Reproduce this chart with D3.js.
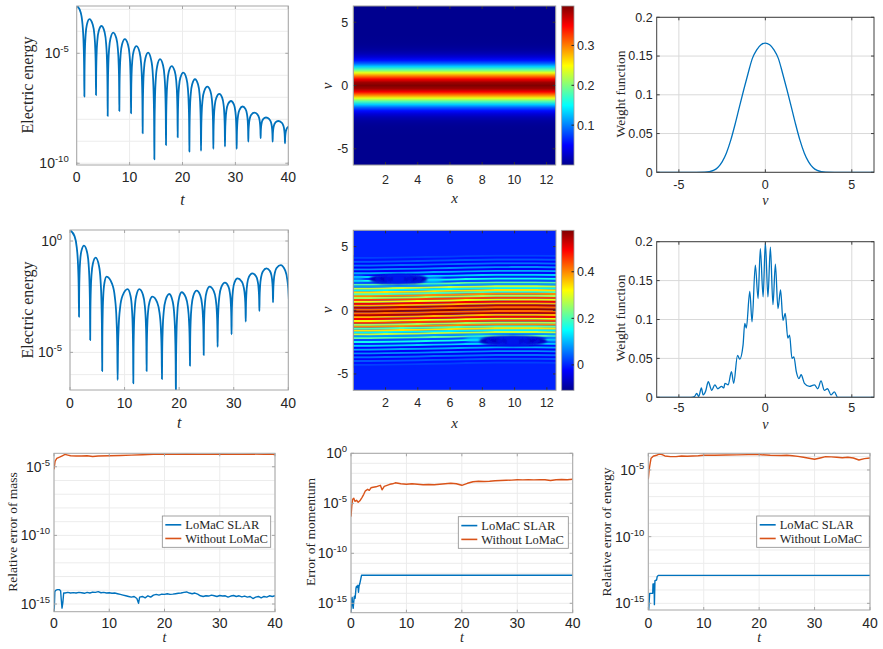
<!DOCTYPE html>
<html>
<head>
<meta charset="utf-8">
<script src="https://cdn.jsdelivr.net/npm/d3@7"></script>
<style>
body { margin: 0; background: #fff; overflow: hidden; }
svg { display: block; font-family: "Liberation Sans", Arial, sans-serif; }
.serif { font-family: "Liberation Serif", "Times New Roman", serif; }
</style>
</head>
<body>
<svg id="fig" width="883" height="649"></svg>
<script>
// ---------------- data ----------------
// electric energy, log10 values of the local maxima / minima
const e1Peaks = [[0,-2.83],[2.4,-3.45],[4.7,-3.76],[6.9,-4.06],[9.1,-4.36],[11.3,-4.67],[13.5,-4.97],[15.75,-5.27],[17.95,-5.58],[20.16,-5.88],[22.36,-6.18],[24.7,-6.52],[26.96,-6.85],[29.17,-7.17],[31.37,-7.42],[33.57,-7.7],[35.78,-7.92],[38.1,-8.08],[40.5,-8.3]];
const e1Dips = [[1.45,-6.97],[3.65,-6.9],[5.86,-7.85],[8.06,-7.62],[10.27,-7.73],[12.47,-8.64],[14.68,-9.82],[16.88,-9.17],[19.09,-8.82],[21.3,-9.47],[23.5,-9.44],[25.83,-9.35],[28.03,-9.24],[30.24,-9.35],[32.44,-9.02],[34.77,-8.86],[37.04,-9.02],[39.37,-9.09]];
const e2Peaks = [[0,0.49],[2.56,-0.21],[4.7,-0.75],[6.7,-1.6],[10.56,-2.16],[12.7,-2.16],[15.1,-2.5],[18.2,-2.38],[20.45,-2.3],[23.2,-2.23],[25.6,-2.05],[28.4,-1.87],[30.7,-1.68],[33.4,-1.45],[36.0,-1.23],[38.6,-1.08]];
const e2Dips = [[1.65,-3.4],[3.7,-4.45],[5.9,-5.84],[8.73,-6.24],[11.6,-6.39],[14.04,-5.84],[16.85,-6.2],[19.4,-7.0],[21.98,-5.6],[24.5,-5.12],[27.05,-4.75],[29.6,-4.19],[32.2,-3.62],[34.7,-3.14],[37.2,-2.75],[40.25,-4.5]];
// shape of an arch: [share of the way from peak to dip, share of the depth lost]
const archShape = [[0.5,0.07],[0.75,0.2],[0.9,0.42],[0.97,0.7]];

// f(x,v) at t = 0 (same for every x), [v, f] for v >= 0
const h1Profile = [[0,0.399],[0.25,0.387],[0.5,0.352],[0.75,0.301],[1,0.242],[1.25,0.183],[1.5,0.130],[1.75,0.086],[2,0.054],[2.25,0.032],[2.5,0.0175],[2.75,0.009],[3,0.0044],[3.25,0.002],[3.5,0.0009],[3.75,0.0004],[4,0.0001],[4.5,0],[6.3,0]];

// f(x,v) at t = 40: filament values, crest / gap for |k| = 0..14 (spacing 0.3 in v)
const h2Crest = [0.57,0.54,0.5,0.45,0.4,0.34,0.28,0.21,0.16,0.12,0.09,0.07,0.05,0.035,0.02];
const h2Gap = [0.42,0.37,0.31,0.26,0.2,0.14,0.08,0.03,0.0,-0.02,-0.03,-0.03,-0.02,-0.01,0.0];
const h2Shift = [[0,-0.08],[2,-0.06],[4,-0.02],[6,0.03],[8,0.08],[10,0.1],[12.57,0.08]];
// vortex eyes [x, v, rx, rv] and light patches [x, v, rx, rv, f]
const h2Eyes = [[2.8,2.45,1.8,0.42],[9.9,-2.4,2.1,0.42]];
const h2Blobs = [[4.9,2.35,0.7,0.22,0.12],[0.2,2.5,0.5,0.2,0.09],[7.6,-2.25,0.7,0.22,0.12],[12.4,-2.3,0.5,0.2,0.09]];

// weight functions
const w1Profile = [[0,0.1667],[0.25,0.1645],[0.5,0.158],[0.75,0.147],[1,0.1275],[1.25,0.1065],[1.5,0.0845],[1.75,0.062],[2,0.0415],[2.25,0.025],[2.5,0.0135],[2.75,0.0062],[3,0.0024],[3.25,0.0008],[3.5,0.0002],[4,0],[6.3,0]];
const w2Points = [[-6.3,0],[-4.3,0],[-4.1,0.001],[-3.97,0.005],[-3.85,0.001],[-3.7,0.012],[-3.6,0.003],[-3.45,0.008],[-3.3,0.02],[-3.1,0.009],[-2.92,0.016],[-2.75,0.011],[-2.53,0.014],[-2.4,0.012],[-2.34,0.018],[-2.15,0.016],[-1.96,0.033],[-1.83,0.018],[-1.61,0.054],[-1.48,0.049],[-1.29,0.067],[-1.19,0.095],[-1.1,0.089],[-0.9,0.136],[-0.77,0.097],[-0.58,0.17],[-0.42,0.127],[-0.29,0.191],[-0.13,0.129],[0,0.199],[0.15,0.129],[0.29,0.193],[0.44,0.119],[0.58,0.171],[0.73,0.114],[0.88,0.138],[1.02,0.099],[1.15,0.108],[1.3,0.076],[1.4,0.08],[1.54,0.05],[1.65,0.052],[1.79,0.033],[1.94,0.024],[2.07,0.029],[2.26,0.018],[2.55,0.014],[2.84,0.016],[3.03,0.011],[3.22,0.021],[3.41,0.009],[3.6,0.011],[3.8,0.003],[3.99,0.007],[4.18,0],[6.3,0]];

// conservation errors, log10
const massSlar = [[0,-16],[0.15,-14.1],[0.3,-14.0],[0.6,-13.95],[1.0,-13.95],[1.2,-14.05],[1.3,-14.6],[1.45,-15.3],[1.6,-14.9],[1.75,-14.2],[2,-14.2],[2.5,-14.15],[3,-14.2],[3.5,-14.17],[4,-14.2],[4.5,-14.15],[5,-14.18],[5.5,-14.22],[6,-14.15],[6.5,-14.2],[7,-14.13],[7.5,-14.15],[8,-14.1],[8.5,-14.18],[9,-14.15],[9.5,-14.2],[10,-14.18],[10.5,-14.22],[11,-14.2],[11.5,-14.25],[12,-14.3],[12.5,-14.35],[13,-14.4],[13.5,-14.45],[14,-14.5],[14.5,-14.45],[15,-14.6],[15.3,-14.95],[15.5,-14.5],[16,-14.45],[16.5,-14.55],[17,-14.4],[17.5,-14.5],[18,-14.35],[18.5,-14.3],[19,-14.35],[19.5,-14.28],[20,-14.3],[20.5,-14.25],[21,-14.3],[21.5,-14.28],[22,-14.25],[22.5,-14.22],[23,-14.2],[23.5,-14.15],[24,-14.12],[24.5,-14.2],[25,-14.25],[25.5,-14.2],[26,-14.28],[26.5,-14.4],[27,-14.45],[27.5,-14.4],[28,-14.42],[28.5,-14.35],[29,-14.4],[29.5,-14.45],[30,-14.38],[30.5,-14.42],[31,-14.4],[31.5,-14.5],[32,-14.42],[32.5,-14.38],[33,-14.45],[33.5,-14.4],[34,-14.48],[34.5,-14.42],[35,-14.5],[35.5,-14.45],[36,-14.6],[36.5,-14.5],[37,-14.45],[37.5,-14.55],[38,-14.45],[38.5,-14.5],[39,-14.4],[39.5,-14.45],[40,-14.4]];
const massNo = [[0,-5.19],[0.2,-4.6],[0.5,-4.39],[1,-4.3],[1.5,-4.2],[2,-4.1],[2.5,-4.15],[3,-4.2],[4,-4.22],[5,-4.22],[6,-4.2],[7,-4.25],[8,-4.22],[10,-4.2],[12,-4.18],[14,-4.15],[16,-4.13],[18,-4.1],[20,-4.1],[22,-4.1],[24,-4.08],[26,-4.1],[28,-4.1],[30,-4.08],[32,-4.1],[34,-4.1],[36,-4.08],[38,-4.1],[39,-4.08],[40,-4.12]];
const momSlar = [[0,-16],[0.1,-14.6],[0.2,-14.4],[0.3,-15.2],[0.4,-15.5],[0.5,-14.8],[0.6,-14.3],[0.75,-14.5],[0.9,-13.5],[1.0,-13.3],[1.15,-13.4],[1.25,-13.2],[1.35,-13.9],[1.45,-13.3],[1.6,-13.0],[1.75,-12.6],[1.9,-12.2],[40,-12.2]];
const momNo = [[0,-6.33],[0.15,-5.2],[0.3,-4.6],[0.5,-4.5],[0.7,-4.8],[1,-4.7],[1.3,-4.9],[1.6,-4.75],[2,-4.4],[2.3,-4.1],[2.6,-3.75],[3,-3.6],[3.3,-3.7],[3.6,-3.45],[4,-3.4],[4.5,-3.35],[5,-3.25],[5.3,-3.2],[5.6,-3.65],[6,-3.3],[6.5,-3.2],[7,-3.1],[7.5,-3.05],[8,-2.95],[9,-3.05],[10,-3.1],[11,-3.05],[12,-3.1],[13,-3.15],[14,-3.12],[15,-3.15],[16,-3.1],[17,-3.05],[18,-3.0],[19,-3.05],[20,-3.2],[21,-3.0],[22,-2.85],[23,-2.8],[24,-2.82],[25,-2.8],[26,-2.75],[27,-2.72],[28,-2.7],[29,-2.68],[30,-2.65],[31,-2.66],[32,-2.65],[33,-2.66],[34,-2.65],[35,-2.65],[36,-2.72],[37,-2.65],[38,-2.62],[39,-2.65],[40,-2.6]];
const enSlar = [[0,-16],[0.15,-14.9],[0.25,-14.25],[0.8,-14.25],[0.85,-13.55],[1.05,-13.55],[1.1,-15.1],[1.2,-13.3],[1.5,-13.25],[1.6,-13.0],[1.8,-12.9],[40,-12.9]];
const enNo = [[0,-5.7],[0.15,-5.0],[0.3,-4.6],[0.5,-4.12],[0.8,-4.0],[1,-3.95],[1.5,-3.9],[2,-3.8],[2.5,-3.85],[3,-3.95],[4,-4.0],[5,-4.0],[6,-3.95],[7,-3.97],[8,-3.95],[9,-3.93],[10,-3.9],[12,-3.9],[14,-3.88],[16,-3.87],[18,-3.85],[20,-3.85],[22,-3.9],[24,-3.92],[25,-3.9],[26,-3.93],[27,-3.98],[28,-4.05],[29,-4.12],[30,-4.2],[31,-4.1],[32,-4.0],[33,-4.02],[34,-4.05],[35,-4.08],[36,-4.05],[37,-4.1],[38,-4.25],[39,-4.15],[40,-4.1]];

const legendNames = ["LoMaC SLAR", "Without LoMaC"];
const tTicks = [0, 10, 20, 30, 40];

// ---------------- drawing ----------------
const BLUE = "#0072BD", ORANGE = "#D95319";
const TWO_PI = 2 * Math.PI;
const svg = d3.select("#fig");
const defs = svg.append("defs");
let nId = 0;

const jetPos = [0, 0.125, 0.375, 0.625, 0.875, 1];
const jetCol = ["#00008f", "#0000ff", "#00ffff", "#ffff00", "#ff0000", "#800000"];
function jet(dom) {
  return d3.scaleLinear()
    .domain(jetPos.map(p => dom[0] + p * (dom[1] - dom[0])))
    .range(jetCol).clamp(true);
}

function mirror(half) {
  const neg = half.filter(d => d[0] > 0).map(d => [-d[0], d[1]]).reverse();
  return neg.concat(half);
}

function archPoints(peaks, dips) {
  const ext = peaks.map(p => ({t: p[0], v: p[1], peak: true}))
    .concat(dips.map(p => ({t: p[0], v: p[1], peak: false})))
    .sort((a, b) => a.t - b.t);
  const pts = [];
  ext.forEach((a, i) => {
    pts.push([a.t, a.v]);
    const b = ext[i + 1];
    if (!b) return;
    const pk = a.peak ? a : b, dp = a.peak ? b : a;
    const depth = pk.v - dp.v;
    const shape = a.peak ? archShape : archShape.slice().reverse();
    shape.forEach(([u, f]) => pts.push([pk.t + u * (dp.t - pk.t), pk.v - f * depth]));
  });
  return pts;
}

function supText(sel, exp, size) {
  sel.append("tspan").text("10");
  sel.append("tspan").attr("dy", -size * 0.42).attr("font-size", size * 0.68).text(exp);
}

// one set of axes; s.box = [x0, x1, y0, y1]
function axes(s) {
  const [x0, x1, y0, y1] = s.box;
  const x = d3.scaleLinear().domain(s.xd).range([x0, x1]);
  const y = (s.log ? d3.scaleLog() : d3.scaleLinear()).domain(s.yd).range([y1, y0]);
  const g = svg.append("g");
  const id = "clip" + (nId++);
  defs.append("clipPath").attr("id", id).append("rect")
    .attr("x", x0).attr("y", y0).attr("width", x1 - x0).attr("height", y1 - y0);
  if (s.grid) {
    g.append("g").selectAll("line").data(s.xt).join("line")
      .attr("x1", x).attr("x2", x).attr("y1", y0).attr("y2", y1)
      .attr("stroke", s.grid).attr("stroke-width", 1);
    g.append("g").selectAll("line").data(s.yg).join("line")
      .attr("x1", x0).attr("x2", x1).attr("y1", y).attr("y2", y)
      .attr("stroke", s.grid).attr("stroke-width", 1);
  }
  const plot = g.append("g").attr("clip-path", `url(#${id})`);

  function finish() {
    const tk = g.append("g").attr("stroke", s.tickColor || s.boxColor).attr("stroke-width", 1);
    s.xt.forEach(v => {
      tk.append("line").attr("x1", x(v)).attr("x2", x(v)).attr("y1", y1).attr("y2", y1 - 3);
      tk.append("line").attr("x1", x(v)).attr("x2", x(v)).attr("y1", y0).attr("y2", y0 + 3);
    });
    s.yt.forEach(v => {
      tk.append("line").attr("x1", x0).attr("x2", x0 + 3).attr("y1", y(v)).attr("y2", y(v));
      tk.append("line").attr("x1", x1).attr("x2", x1 - 3).attr("y1", y(v)).attr("y2", y(v));
    });
    g.append("rect").attr("x", x0).attr("y", y0).attr("width", x1 - x0).attr("height", y1 - y0)
      .attr("fill", "none").attr("stroke", s.boxColor).attr("stroke-width", 1);

    const fs = s.fs;
    g.append("g").selectAll("text").data(s.xt).join("text")
      .attr("x", x).attr("y", s.xLabY).attr("dy", "0.35em").attr("text-anchor", "middle")
      .attr("font-size", fs).attr("fill", "#262626").text(v => String(v));
    const yl = g.append("g");
    s.yt.forEach(v => {
      const t = yl.append("text").attr("x", x0 - s.yGap).attr("y", y(v)).attr("dy", "0.35em")
        .attr("text-anchor", "end").attr("font-size", fs).attr("fill", "#262626");
      if (s.log) supText(t, String(Math.round(Math.log10(v))), fs);
      else t.text(String(v));
    });
    if (s.xTitle) {
      g.append("text").attr("class", "serif").attr("x", (x0 + x1) / 2).attr("y", s.xTitle[1])
        .attr("text-anchor", "middle").attr("font-style", "italic")
        .attr("font-size", s.xTitle[2]).attr("fill", "#262626").text(s.xTitle[0]);
    }
    if (s.yTitle) {
      const [txt, tx, ty, tfs, it] = s.yTitle;
      g.append("text").attr("class", "serif")
        .attr("transform", `translate(${tx},${ty}) rotate(-90)`)
        .attr("text-anchor", "middle").attr("dy", "0.35em")
        .attr("font-style", it ? "italic" : "normal")
        .attr("font-size", tfs).attr("fill", "#262626").text(txt);
    }
  }
  return {x, y, plot, g, finish};
}

const pow = e => Math.pow(10, e);
const decades = (a, b) => d3.range(a, b + 1).map(pow);

function logLine(ax, data, color, w, curve) {
  ax.plot.append("path").datum(data)
    .attr("fill", "none").attr("stroke", color).attr("stroke-width", w)
    .attr("stroke-linejoin", "round")
    .attr("d", d3.line().x(d => ax.x(d[0])).y(d => ax.y(pow(d[1]))).curve(curve || d3.curveLinear));
}

function legend(b, fs) {
  const [lx0, ly0, lx1, ly1] = b;
  const g = svg.append("g");
  g.append("rect").attr("x", lx0).attr("y", ly0).attr("width", lx1 - lx0).attr("height", ly1 - ly0)
    .attr("fill", "#fff").attr("stroke", "#8a8a8a").attr("stroke-width", 0.8);
  const rowH = (ly1 - ly0) / 2;
  [BLUE, ORANGE].forEach((c, i) => {
    const yy = ly0 + rowH * (i + 0.5) + (i === 0 ? 1 : -1);
    g.append("line").attr("x1", lx0 + 3).attr("x2", lx0 + 19).attr("y1", yy).attr("y2", yy)
      .attr("stroke", c).attr("stroke-width", 1.6);
    g.append("text").attr("class", "serif").attr("x", lx0 + 23).attr("y", yy).attr("dy", "0.35em")
      .attr("font-size", fs).attr("fill", "#262626").text(legendNames[i]);
  });
}

function colorbar(b, dom, ticks) {
  const [cx0, cx1, cy0, cy1] = b;
  const gid = "cb" + (nId++);
  const gr = defs.append("linearGradient").attr("id", gid)
    .attr("x1", 0).attr("y1", 1).attr("x2", 0).attr("y2", 0);
  jetPos.forEach((p, i) => gr.append("stop").attr("offset", p).attr("stop-color", jetCol[i]));
  svg.append("rect").attr("x", cx0).attr("y", cy0).attr("width", cx1 - cx0).attr("height", cy1 - cy0)
    .attr("fill", `url(#${gid})`).attr("stroke", "#9a9a9a").attr("stroke-width", 0.8);
  const s = d3.scaleLinear().domain(dom).range([cy1, cy0]);
  ticks.forEach(v => {
    svg.append("line").attr("x1", cx1).attr("x2", cx1 - 2.5).attr("y1", s(v)).attr("y2", s(v))
      .attr("stroke", "#262626");
    svg.append("text").attr("x", cx1 + 3).attr("y", s(v)).attr("dy", "0.35em")
      .attr("font-size", 12.5).attr("fill", "#262626").text(String(v));
  });
}

// ---- row 1, left: electric energy ----
{
  const ax = axes({box: [76.7, 288.3, 6, 165], xd: [0, 40], yd: [pow(-10.08), pow(-2.85)], log: true,
    xt: tTicks, yt: [pow(-10), pow(-5)], yg: decades(-10, -3), grid: "#ececec", boxColor: "#a6a6a6",
    fs: 14, xLabY: 177, yGap: 8, xTitle: ["t", 205, 16], yTitle: ["Electric energy", 27, 85, 16]});
  logLine(ax, archPoints(e1Peaks, e1Dips), BLUE, 1.8, d3.curveMonotoneX);
  ax.finish();
}
// ---- row 2, left ----
{
  const ax = axes({box: [70, 288.3, 230, 390], xd: [0, 40], yd: [pow(-6.69), pow(0.494)], log: true,
    xt: tTicks, yt: [pow(-5), pow(0)], yg: decades(-6, 0), grid: "#ececec", boxColor: "#a6a6a6",
    fs: 14, xLabY: 403, yGap: 8, xTitle: ["t", 428, 16], yTitle: ["Electric energy", 27, 310, 16]});
  logLine(ax, archPoints(e2Peaks, e2Dips), BLUE, 1.8, d3.curveMonotoneX);
  ax.finish();
}

// ---- heat maps ----
{
  const ax = axes({box: [353.3, 555.7, 6, 165], xd: [0, 4 * Math.PI], yd: [-TWO_PI, TWO_PI],
    xt: [2, 4, 6, 8, 10, 12], yt: [-5, 0, 5], boxColor: "#9a9a9a", tickColor: "#303030",
    fs: 12.5, xLabY: 180, yGap: 5, xTitle: ["x", 203, 15], yTitle: ["v", 327, 86, 15, true]});
  const c1 = jet([0, 0.399]);
  const gid = "h1g";
  const gr = defs.append("linearGradient").attr("id", gid).attr("gradientUnits", "userSpaceOnUse")
    .attr("x1", 0).attr("x2", 0).attr("y1", ax.y(TWO_PI)).attr("y2", ax.y(-TWO_PI));
  mirror(h1Profile).slice().reverse().forEach(d => {
    gr.append("stop").attr("offset", (ax.y(d[0]) - ax.y(TWO_PI)) / (ax.y(-TWO_PI) - ax.y(TWO_PI)))
      .attr("stop-color", c1(d[1]));
  });
  ax.plot.append("rect").attr("x", ax.x(0)).attr("y", ax.y(TWO_PI))
    .attr("width", ax.x(4 * Math.PI) - ax.x(0)).attr("height", ax.y(-TWO_PI) - ax.y(TWO_PI))
    .attr("fill", `url(#${gid})`);
  ax.finish();
  colorbar([561.7, 574, 6, 165], [0, 0.399], [0.1, 0.2, 0.3]);
}
{
  const dom = [-0.109, 0.578];
  const c2 = jet(dom);
  const ax = axes({box: [353.3, 556, 230.3, 390.3], xd: [0, 4 * Math.PI], yd: [-TWO_PI, TWO_PI],
    xt: [2, 4, 6, 8, 10, 12], yt: [-5, 0, 5], boxColor: "#9a9a9a", tickColor: "#303030",
    fs: 12.5, xLabY: 403, yGap: 5, xTitle: ["x", 428, 15], yTitle: ["v", 327, 310, 15, true]});
  ax.plot.append("rect").attr("x", 353.3).attr("y", 230.3).attr("width", 203).attr("height", 160)
    .attr("fill", c2(0));
  const rows = d3.range(-29, 30).map(j => {
    const a = Math.abs(j);
    return {v: j * 0.15, f: a % 2 === 0 ? h2Crest[a / 2] : h2Gap[(a - 1) / 2]};
  });
  const band = d3.area().curve(d3.curveMonotoneX).x(d => ax.x(d[0]));
  ax.plot.append("g").selectAll("path").data(rows).join("path")
    .attr("fill", d => c2(d.f))
    .attr("d", r => band.y0(d => ax.y(r.v - 0.08 + d[1])).y1(d => ax.y(r.v + 0.08 + d[1]))(h2Shift));
  const blur1 = "bl" + (nId++), blur2 = "bl" + (nId++);
  defs.append("filter").attr("id", blur1).append("feGaussianBlur").attr("stdDeviation", 0.9);
  defs.append("filter").attr("id", blur2).append("feGaussianBlur").attr("stdDeviation", 2.2);
  const kx = ax.x(1) - ax.x(0), kv = ax.y(0) - ax.y(1);
  ax.plot.append("g").attr("filter", `url(#${blur2})`).selectAll("ellipse").data(h2Blobs).join("ellipse")
    .attr("cx", d => ax.x(d[0])).attr("cy", d => ax.y(d[1]))
    .attr("rx", d => d[2] * kx).attr("ry", d => d[3] * kv).attr("fill", d => c2(d[4]));
  const eyes = ax.plot.append("g").attr("filter", `url(#${blur1})`);
  h2Eyes.forEach(e => {
    eyes.append("ellipse").attr("cx", ax.x(e[0])).attr("cy", ax.y(e[1]))
      .attr("rx", e[2] * kx).attr("ry", e[3] * kv).attr("fill", c2(-0.07));
    [0.75, 0.45, 0.18].forEach(k => {
      eyes.append("ellipse").attr("cx", ax.x(e[0])).attr("cy", ax.y(e[1]))
        .attr("rx", e[2] * kx * k).attr("ry", e[3] * kv * k).attr("fill", "none")
        .attr("stroke", c2(0.0)).attr("stroke-width", 1.1);
    });
  });
  ax.finish();
  colorbar([561.7, 574, 230.3, 390.3], dom, [0, 0.2, 0.4]);
}

// ---- weight functions ----
function weight(box, data, labY, titleY, yTitleY) {
  const ax = axes({box, xd: [-TWO_PI, TWO_PI], yd: [0, 0.2], xt: [-5, 0, 5],
    yt: [0, 0.05, 0.1, 0.15, 0.2], yg: [0, 0.05, 0.1, 0.15, 0.2], grid: "#d9d9d9",
    boxColor: "#404040", fs: 12.5, xLabY: labY, yGap: 4, xTitle: ["v", titleY, 14],
    yTitle: ["Weight function", 620, yTitleY, 13.5]});
  ax.plot.append("path").datum(data).attr("fill", "none").attr("stroke", BLUE).attr("stroke-width", 1.3)
    .attr("d", d3.line().x(d => ax.x(d[0])).y(d => ax.y(d[1])).curve(d3.curveMonotoneX));
  ax.finish();
}
weight([656.7, 874, 17.3, 172.3], mirror(w1Profile), 185, 205, 94);
weight([656.7, 874, 241.7, 397.3], w2Points, 408, 429, 318);

// ---- conservation errors ----
function errPanel(box, yd, ytExp, gridRange, yTitle, slar, noLo, leg) {
  const ax = axes({box, xd: [0, 40], yd: yd.map(pow), log: true, xt: tTicks,
    yt: ytExp.map(pow), yg: decades(gridRange[0], gridRange[1]), grid: "#ececec",
    boxColor: "#a6a6a6", fs: 14, xLabY: 623, yGap: 4, xTitle: ["t", 642, 14], yTitle});
  logLine(ax, slar, BLUE, 1.4);
  logLine(ax, noLo, ORANGE, 1.4);
  ax.finish();
  legend(leg, 12.5);
}
errPanel([54, 275, 453.3, 611.7], [-15.56, -4.02], [-15, -10, -5], [-15, -5],
  ["Relative error of mass", 12, 532, 13.5], massSlar, massNo, [162.3, 516, 270.7, 547.3]);
errPanel([351, 572.7, 453.3, 612.7], [-15.94, 0], [-15, -10, -5, 0], [-15, 0],
  ["Error of momentum", 310, 532, 13.5], momSlar, momNo, [458.3, 516.7, 568.3, 548.3]);
errPanel([648.3, 870, 453.3, 610], [-15.5, -3.75], [-15, -10, -5], [-15, -4],
  ["Relative error of energy", 606.7, 532, 13.5], enSlar, enNo, [756.7, 516, 869.3, 547.3]);
</script>
</body>
</html>
